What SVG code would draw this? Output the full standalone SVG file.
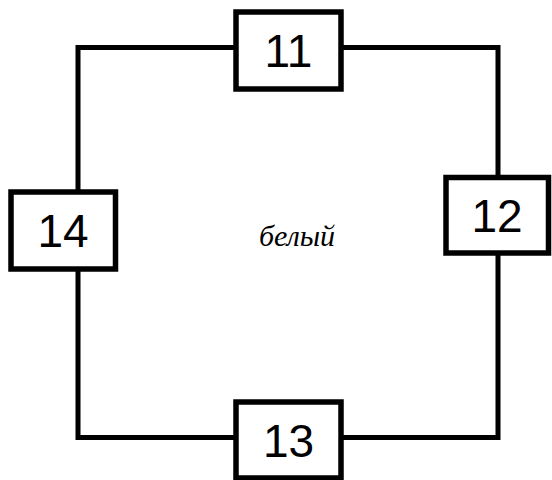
<svg xmlns="http://www.w3.org/2000/svg" width="552" height="480" viewBox="0 0 552 480">
<style>
.c{fill:none;stroke:#000;stroke-width:5;stroke-linejoin:miter}
.b{fill:#fff;stroke:#000;stroke-width:5.5}
.t{font-family:"Liberation Sans","Open Sans",sans-serif;font-size:46px;text-anchor:middle;fill:#000}
.l{font-family:"Liberation Serif",serif;font-style:italic;font-size:30px;text-anchor:middle;fill:#000}
</style>
<rect width="552" height="480" fill="#fff"/>
<g id="connectors">
<path class="c" d="M236,47.5 H78 V192"/>
<path class="c" d="M341,47.5 H498 V177.5"/>
<path class="c" d="M498,253 V437.5 H341"/>
<path class="c" d="M236,437.5 H78 V269"/>
</g>
<g id="n11"><rect class="b" x="236" y="12" width="105" height="77"/><text class="t" x="288.5" y="67">11</text></g>
<g id="n12"><rect class="b" x="446" y="177.5" width="102.5" height="75.5"/><text class="t" x="497" y="232">12</text></g>
<g id="n13"><rect class="b" x="236" y="402" width="105" height="76"/><text class="t" x="288.5" y="457">13</text></g>
<g id="n14"><rect class="b" x="11" y="192" width="104.5" height="77"/><text class="t" x="63" y="247">14</text></g>
<text class="l" x="297" y="246">белый</text>
</svg>
